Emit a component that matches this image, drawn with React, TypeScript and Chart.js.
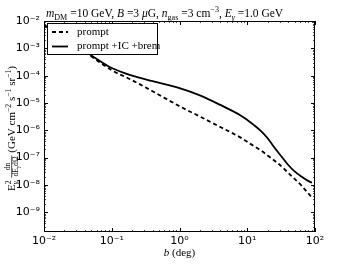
import { useEffect, useRef } from 'react';
import { Chart, registerables } from 'chart.js';

Chart.register(...registerables);

// Angle b (deg)
const angles = [0.01, 0.02, 0.0316, 0.05, 0.1, 0.2, 0.4, 1, 2, 4, 8, 10, 12.6, 16, 20, 25, 32, 40, 50, 63, 79, 90];
// E^2 dn/dE dOmega  (GeV cm^-2 s^-1 sr^-1)
const promptFlux = [7.1e-3, 2.3e-3, 1.05e-3, 5.0e-4, 1.58e-4, 6.8e-5, 2.7e-5, 7.6e-6, 3.2e-6, 1.32e-6, 5.4e-7, 3.8e-7, 2.63e-7, 1.82e-7, 1.2e-7, 7.9e-8, 4.8e-8, 2.8e-8, 1.66e-8, 9.5e-9, 5.0e-9, 3.5e-9];
const totalFlux = [7.1e-3, 2.4e-3, 1.12e-3, 5.5e-4, 1.9e-4, 1.0e-4, 6.3e-5, 3.5e-5, 1.9e-5, 8.5e-6, 3.5e-6, 2.4e-6, 1.55e-6, 9.3e-7, 5.1e-7, 2.4e-7, 1.1e-7, 5.5e-8, 3.16e-8, 2.04e-8, 1.41e-8, 1.2e-8];
const seriesLabels = ['prompt', 'prompt +IC +brem'];
const xTickValues = [0.01, 0.1, 1, 10, 100];
const yTickValues = [1e-9, 1e-8, 1e-7, 1e-6, 1e-5, 1e-4, 1e-3, 1e-2];
const X_MIN = 0.01;
const X_MAX = 100;
const Y_MIN = 1.9e-10;
const Y_MAX = 1e-2;

const SERIF = '"Liberation Serif", "DejaVu Serif", serif';
const SANS = '"DejaVu Sans", sans-serif';

const SUP: Record<string, string> = { '-': '⁻', '0': '⁰', '1': '¹', '2': '²', '3': '³', '4': '⁴', '5': '⁵', '6': '⁶', '7': '⁷', '8': '⁸', '9': '⁹' };
function powLabel(v: number): string {
  const e = Math.round(Math.log10(v));
  return '10' + String(e).split('').map((c) => SUP[c] ?? c).join('');
}

type Seg = { t?: string; it?: boolean; s?: number; dy?: number; sup?: string; sub?: string; num?: Seg[]; den?: Seg[] };

function fontOf(size: number, it: boolean) {
  return `${it ? 'italic ' : ''}${size}px ${SERIF}`;
}
function segsWidth(ctx: CanvasRenderingContext2D, segs: Seg[], base: number): number {
  let w = 0;
  for (const g of segs) w += segWidth(ctx, g, base);
  return w;
}
function segWidth(ctx: CanvasRenderingContext2D, g: Seg, base: number): number {
  if (g.num && g.den) {
    return Math.max(segsWidth(ctx, g.num, base * 0.7), segsWidth(ctx, g.den, base * 0.7)) + 2;
  }
  if (g.sup !== undefined) {
    ctx.font = fontOf(base * 0.7, false);
    const a = ctx.measureText(g.sup).width;
    ctx.font = fontOf(base * 0.7, true);
    const b = ctx.measureText(g.sub ?? '').width;
    return Math.max(a, b);
  }
  ctx.font = fontOf(base * (g.s ?? 1), !!g.it);
  return ctx.measureText(g.t ?? '').width;
}
function drawSegs(ctx: CanvasRenderingContext2D, segs: Seg[], x0: number, y: number, base: number) {
  let x = x0;
  ctx.textAlign = 'left';
  ctx.textBaseline = 'alphabetic';
  for (const g of segs) {
    const w = segWidth(ctx, g, base);
    if (g.num && g.den) {
      const b2 = base * 0.7;
      const nw = segsWidth(ctx, g.num, b2);
      const dw = segsWidth(ctx, g.den, b2);
      const axis = y - base * 0.3;
      drawSegs(ctx, g.num, x + (w - nw) / 2, axis - 1.5, b2);
      drawSegs(ctx, g.den, x + (w - dw) / 2, axis + b2 * 0.72 + 1, b2);
      ctx.beginPath();
      ctx.lineWidth = 0.7;
      ctx.strokeStyle = '#000';
      ctx.moveTo(x, axis);
      ctx.lineTo(x + w, axis);
      ctx.stroke();
    } else if (g.sup !== undefined) {
      ctx.font = fontOf(base * 0.7, false);
      ctx.fillText(g.sup, x, y - base * 0.4);
      ctx.font = fontOf(base * 0.7, true);
      ctx.fillText(g.sub ?? '', x, y + base * 0.28);
    } else {
      ctx.font = fontOf(base * (g.s ?? 1), !!g.it);
      ctx.fillText(g.t ?? '', x, y + (g.dy ?? 0));
    }
    x += w;
  }
}

const titleSegs: Seg[] = [
  { t: 'm', it: true }, { t: 'DM', s: 0.7, dy: 3 }, { t: ' =10 GeV, ' },
  { t: 'B', it: true }, { t: ' =3 ' }, { t: 'μ', it: true }, { t: 'G, ' },
  { t: 'n', it: true }, { t: 'gas', s: 0.7, dy: 3 }, { t: ' =3 cm' }, { t: '−3', s: 0.7, dy: -5 }, { t: ', ' },
  { t: 'E', it: true }, { t: 'γ', it: true, s: 0.7, dy: 3 }, { t: ' =1.0 GeV' },
];
const yLabelSegs: Seg[] = [
  { t: 'E' }, { sup: '2', sub: 'γ' }, { t: ' ' },
  { num: [{ t: 'dn' }], den: [{ t: 'dE' }, { t: 'γ', it: true, s: 0.7, dy: 2 }, { t: 'dΩ' }] },
  { t: ' (GeV cm' }, { t: '−2', s: 0.7, dy: -4 }, { t: ' s' }, { t: '−1', s: 0.7, dy: -4 },
  { t: ' sr' }, { t: '−1', s: 0.7, dy: -4 }, { t: ')' },
];
const xLabelSegs: Seg[] = [{ t: 'b', it: true }, { t: ' (deg)' }];

function minorValues(lo: number, hi: number): number[] {
  const out: number[] = [];
  for (let e = Math.floor(Math.log10(lo)); e <= Math.ceil(Math.log10(hi)); e++) {
    for (let k = 1; k <= 9; k++) {
      const v = k * Math.pow(10, e);
      if (v >= lo * 0.999 && v <= hi * 1.001) out.push(v);
    }
  }
  return out;
}

const decorPlugin = {
  id: 'decor',
  afterDatasetsDraw(chart: any) {
    const ctx: CanvasRenderingContext2D = chart.ctx;
    const { left, right, top, bottom } = chart.chartArea;
    const xs = chart.scales.x;
    const ys = chart.scales.y;
    ctx.save();
    ctx.strokeStyle = '#000';
    ctx.lineWidth = 1;
    ctx.strokeRect(left + 0.5, top + 0.5, right - left - 1, bottom - top - 1);
    const drawX = (v: number, len: number) => {
      const px = Math.round(xs.getPixelForValue(v)) + 0.5;
      ctx.beginPath();
      ctx.moveTo(px, bottom); ctx.lineTo(px, bottom - len);
      ctx.moveTo(px, top); ctx.lineTo(px, top + len);
      ctx.stroke();
    };
    const drawY = (v: number, len: number) => {
      const py = Math.round(ys.getPixelForValue(v)) + 0.5;
      ctx.beginPath();
      ctx.moveTo(left, py); ctx.lineTo(left + len, py);
      ctx.moveTo(right, py); ctx.lineTo(right - len, py);
      ctx.stroke();
    };
    ctx.lineWidth = 0.7;
    minorValues(X_MIN, X_MAX).forEach((v) => drawX(v, 2));
    minorValues(Y_MIN, Y_MAX).forEach((v) => drawY(v, 2));
    ctx.lineWidth = 1;
    xTickValues.forEach((v) => drawX(v, 4));
    yTickValues.forEach((v) => drawY(v, 4));

    // legend
    const lx = left + 3, ly = top + 2, lw = 110, lh = 31;
    ctx.fillStyle = '#fff';
    ctx.fillRect(lx, ly, lw, lh);
    ctx.lineWidth = 1;
    ctx.strokeStyle = '#000';
    ctx.strokeRect(lx + 0.5, ly + 0.5, lw, lh);
    chart.data.datasets.forEach((ds: any, i: number) => {
      const yy = ly + 9 + i * 14.5;
      ctx.beginPath();
      ctx.lineWidth = ds.borderWidth;
      ctx.setLineDash(ds.borderDash ?? []);
      ctx.moveTo(lx + 5, yy);
      ctx.lineTo(lx + 21, yy);
      ctx.stroke();
      ctx.setLineDash([]);
      ctx.fillStyle = '#000';
      ctx.font = `11px ${SERIF}`;
      ctx.textAlign = 'left';
      ctx.textBaseline = 'middle';
      ctx.fillText(ds.label, lx + 30, yy);
    });

    ctx.fillStyle = '#000';
    drawSegs(ctx, titleSegs, left + 2, 17, 11.5);
    const xw = segsWidth(ctx, xLabelSegs, 11);
    drawSegs(ctx, xLabelSegs, (left + right) / 2 - xw / 2, 256, 11);
    const yw = segsWidth(ctx, yLabelSegs, 11);
    ctx.translate(15, (top + bottom) / 2 + 2);
    ctx.rotate(-Math.PI / 2);
    drawSegs(ctx, yLabelSegs, -yw / 2, 0, 11);
    ctx.restore();
  },
};

export default function App() {
  const ref = useRef<HTMLCanvasElement | null>(null);
  useEffect(() => {
    document.body.style.margin = '0';
    const canvas = ref.current;
    if (!canvas) return;
    const chart = new Chart(canvas, {
      type: 'line',
      data: {
        datasets: [
          {
            label: seriesLabels[0],
            data: angles.map((b, i) => ({ x: b, y: promptFlux[i] })),
            borderColor: '#000',
            borderWidth: 1.8,
            borderDash: [4, 3],
            pointRadius: 0,
            fill: false,
            cubicInterpolationMode: 'monotone',
          },
          {
            label: seriesLabels[1],
            data: angles.map((b, i) => ({ x: b, y: totalFlux[i] })),
            borderColor: '#000',
            borderWidth: 1.8,
            pointRadius: 0,
            fill: false,
            cubicInterpolationMode: 'monotone',
          },
        ],
      },
      options: {
        animation: false,
        responsive: false,
        devicePixelRatio: 1,
        layout: { padding: { top: 21, right: 35, left: 0, bottom: 0 } },
        plugins: { legend: { display: false }, tooltip: { enabled: false }, title: { display: false } },
        scales: {
          x: {
            type: 'logarithmic',
            min: X_MIN,
            max: X_MAX,
            grid: { display: false, drawTicks: false },
            border: { display: false },
            afterBuildTicks: (s: any) => { s.ticks = xTickValues.map((v) => ({ value: v })); },
            afterFit: (s: any) => { s.height = 32; },
            ticks: {
              autoSkip: false,
              maxRotation: 0,
              padding: 3,
              color: '#000',
              font: { family: SANS, size: 11 },
              callback: (v: any) => powLabel(Number(v)),
            },
          },
          y: {
            type: 'logarithmic',
            min: Y_MIN,
            max: Y_MAX,
            grid: { display: false, drawTicks: false },
            border: { display: false },
            afterBuildTicks: (s: any) => { s.ticks = yTickValues.map((v) => ({ value: v })); },
            afterFit: (s: any) => { s.width = 44; },
            ticks: {
              autoSkip: false,
              padding: 4,
              color: '#000',
              font: { family: SANS, size: 11 },
              callback: (v: any) => powLabel(Number(v)),
            },
          },
        },
      },
      plugins: [decorPlugin],
    } as any);
    return () => chart.destroy();
  }, []);
  return (
    <div style={{ position: 'absolute', left: 0, top: 0, width: 350, height: 264, background: '#fff' }}>
      <canvas ref={ref} width={350} height={264} style={{ display: 'block', width: 350, height: 264 }} />
    </div>
  );
}
